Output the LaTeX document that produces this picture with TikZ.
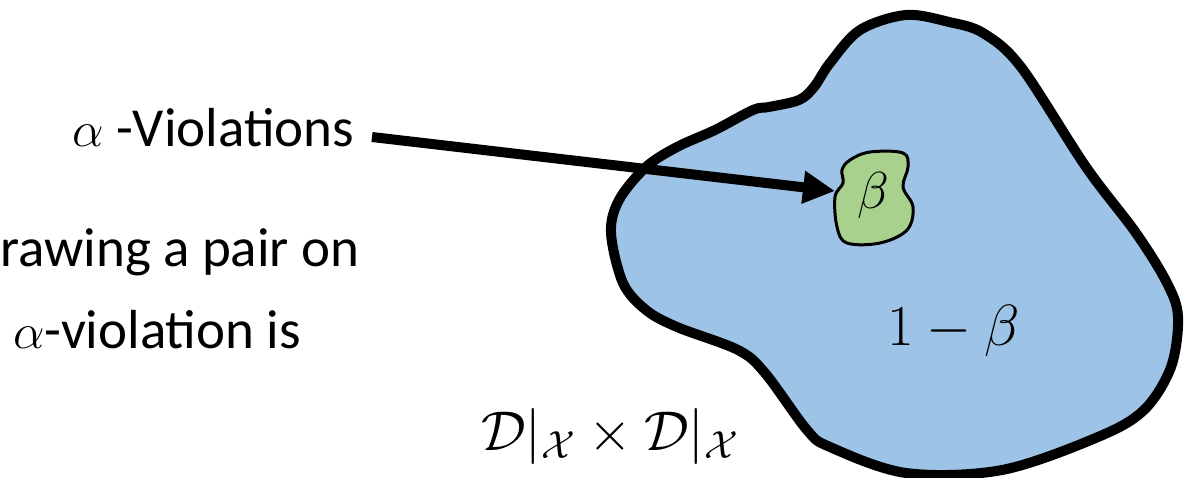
\documentclass[tikz,border=0pt]{standalone}
\usepackage{fix-cm}
\usepackage{fontspec}
\setmainfont{Carlito}
\usetikzlibrary{arrows.meta}
\definecolor{blobblue}{RGB}{157,195,230}
\definecolor{blobgreen}{RGB}{169,209,142}
\newcommand{\alphasym}{{\fontsize{50}{60}\selectfont$\alpha$}}
\begin{document}
\begin{tikzpicture}[x=1pt,y=-1pt,
  lbl/.style={inner sep=0pt, font=\fontsize{55}{66}\selectfont, anchor=base west},
  mth/.style={inner sep=0pt, font=\fontsize{56}{66}\selectfont, anchor=base west},
  outline/.style={line width=10pt, line join=round},
  pointer/.style={line width=10pt, -{Triangle[length=32pt,width=31pt]}},
]
\useasboundingbox (0,0) rectangle (1204,478);
% big region
\draw[outline, fill=blobblue] plot[smooth cycle, tension=0.55] coordinates {
 (906,15) (949,22) (983,33) (1021,67) (1086,167) (1136,233) (1167,283)
 (1178,317) (1171,367) (1144,410) (1098,437) (1002,470) (906,473)
 (830,447) (807,430) (765,373) (738,350) (677,327) (646,310) (623,283)
 (611,233) (619,200) (646,167) (677,147) (715,130) (753,110) (769,107)
 (799,100) (814,87) (830,63) (860,30)};
% small region
\draw[line width=3pt, line join=round, fill=blobgreen] plot[smooth cycle, tension=0.6] coordinates {
 (850,160) (870,152) (903,153) (908,167) (903,187) (913,207) (907,230)
 (880,243) (847,243) (837,227) (835,197) (843,183) (842,170)};
\node[mth, anchor=center, font=\fontsize{52}{60}\selectfont] (beta) at (873,196) {$\beta$};
\node[mth, font=\fontsize{58}{66}\selectfont] (onemb) at (887,345) {$1-\beta$};
\node[mth] (dx) at (481,450) {$\mathcal{D}|_{\mathcal{X}}\times\mathcal{D}|_{\mathcal{X}}$};
% texts on the left
\node[lbl] (viol) at (72,147) {\alphasym\ -Violations};
\node[lbl] (draw1) at (0,266) {rawing a pair on};
\node[lbl] (draw2) at (13,348) {\alphasym-violation is};
% arrow
\coordinate (astart) at (372,137);
\coordinate (atip) at (835,191);
\draw[pointer] (astart) -- (atip);
\end{tikzpicture}
\end{document}
